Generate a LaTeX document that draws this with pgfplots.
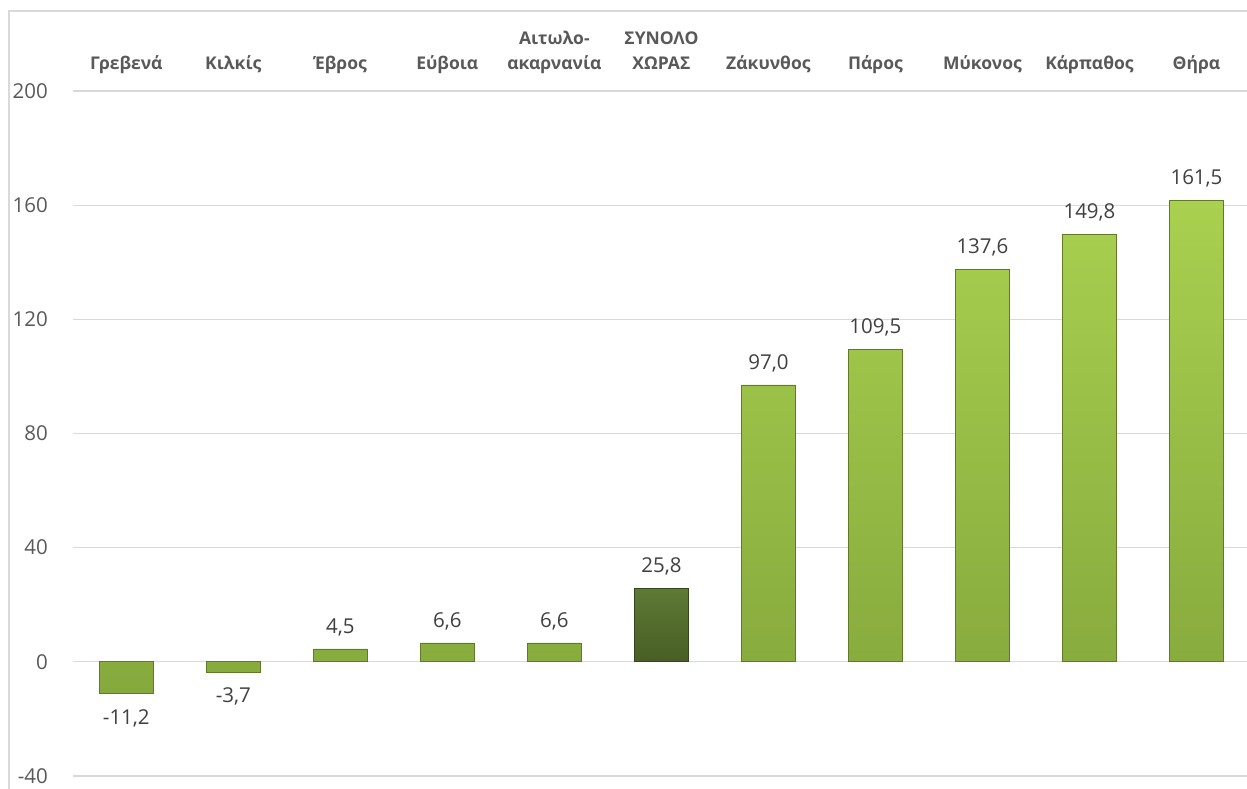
\documentclass[border=0pt]{standalone}
\usepackage{pgfplots}
\pgfplotsset{compat=1.18}
\usepackage{fontspec}
\setmainfont{Open Sans}

\definecolor{gridgray}{HTML}{D9D9D9}
\definecolor{ticktext}{HTML}{595959}
\definecolor{valtext}{HTML}{404040}
\definecolor{barTop}{HTML}{A9D04F}
\definecolor{barBot}{HTML}{86A93D}
\definecolor{barEdge}{HTML}{5F7B28}
\definecolor{darkTop}{HTML}{5E7A36}
\definecolor{darkBot}{HTML}{485E24}
\definecolor{darkEdge}{HTML}{34451A}

\begin{document}
\begin{tikzpicture}
% chart frame (cropped at right and bottom)
\draw[gridgray, line width=1.3pt] (9pt,-10pt) -- (9pt,778pt) -- (1300pt,778pt);
\begin{axis}[
  at={(72.8pt,13pt)}, anchor=south west,
  scale only axis,
  width=1177.2pt, height=685pt,
  xmin=-0.5, xmax=10.5,
  ymin=-40, ymax=200,
  ytick={-40,0,...,200},
  xtick={0,...,10},
  xticklabels={Γρεβενά, Κιλκίς, Έβρος, Εύβοια, {Αιτωλο-\\ακαρνανία}, {ΣΥΝΟΛΟ\\ΧΩΡΑΣ},
               Ζάκυνθος, Πάρος, Μύκονος, Κάρπαθος, Θήρα},
  xticklabel pos=upper,
  axis line style={draw=none},
  major tick length=0pt,
  ymajorgrids,
  grid style={gridgray, line width=1.3pt},
  /pgf/number format/assume math mode=true,
  yticklabel style={anchor=east, inner sep=0pt, xshift=-24.8pt,
                    font=\fontsize{20.5}{24}\selectfont, text=ticktext},
  xticklabel style={anchor=south, align=center, inner sep=0pt, text depth=5pt,
                    yshift=16pt, font=\bfseries\fontsize{17.5}{25}\selectfont, text=ticktext},
  ybar, bar width=54pt,
  nodes near coords={\pgfmathprintnumber[fixed, fixed zerofill, precision=1,
                      use comma, assume math mode=true]{\pgfplotspointmeta}},
  nodes near coords align={vertical},
  every node near coord/.append style={font=\fontsize{20.5}{24}\selectfont, text=valtext,
                      text height=14.6pt, text depth=0pt, inner sep=15.5pt},
]
\addplot[bar shift=0pt, draw=barEdge, line width=0.8pt, top color=barTop, bottom color=barBot]
  coordinates {(0,-11.2) (1,-3.7) (2,4.5) (3,6.6) (4,6.6)
               (6,97.0) (7,109.5) (8,137.6) (9,149.8) (10,161.5)};
\addplot[bar shift=0pt, draw=darkEdge, line width=0.8pt, top color=darkTop, bottom color=darkBot]
  coordinates {(5,25.8)};
\end{axis}
\pgfresetboundingbox
\path[use as bounding box] (0,0) rectangle (1247pt,789pt);
\end{tikzpicture}
\end{document}
